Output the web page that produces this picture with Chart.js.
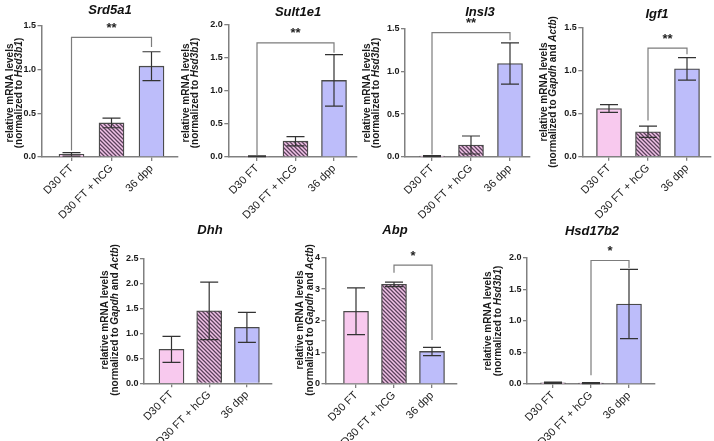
<!DOCTYPE html>
<html>
<head>
<meta charset="utf-8">
<script src="https://cdn.jsdelivr.net/npm/chart.js@4.4.1/dist/chart.umd.min.js"></script>
<style>
html, body { margin: 0; padding: 0; background: #fff; }
#fig { position: relative; width: 714px; height: 441px; overflow: hidden; }
#fig canvas { position: absolute; }
</style>
</head>
<body>
<div id="fig"></div>
<script>
// groups (same for every panel)
const categories = ['D30 FT', 'D30 FT + hCG', '36 dpp'];

// mean and error of each gene
const srd5a1Mean = [0.03, 0.39, 1.04];
const srd5a1Err = [0.02, 0.055, 0.165];
const sult1e1Mean = [0.01, 0.24, 1.16];
const sult1e1Err = [0.006, 0.07, 0.39];
const insl3Mean = [0.01, 0.14, 1.09];
const insl3Err = [0.006, 0.105, 0.24];
const igf1Mean = [0.56, 0.29, 1.02];
const igf1Err = [0.045, 0.065, 0.13];
const dhhMean = [0.68, 1.45, 1.12];
const dhhErr = [0.26, 0.575, 0.30];
const abpMean = [2.3, 3.15, 1.03];
const abpErr = [0.74, 0.07, 0.13];
const hsd17b2Mean = [0.02, 0.015, 1.27];
const hsd17b2Err = [0.01, 0.008, 0.55];

// y axis ranges: [max, step, decimals]
const srd5a1Axis = [1.5, 0.5, 1];
const sult1e1Axis = [2.0, 0.5, 1];
const insl3Axis = [1.5, 0.5, 1];
const igf1Axis = [1.5, 0.5, 1];
const dhhAxis = [2.5, 0.5, 1];
const abpAxis = [4, 1, 0];
const hsd17b2Axis = [2.0, 0.5, 1];

// significance brackets: [from, to, level, left leg end, right leg end, label]
const srd5a1Sig = [0, 2, 1.37, 0.075, 1.26, '**'];
const sult1e1Sig = [0, 2, 1.73, 0.03, 1.58, '**'];
const insl3Sig = [0, 2, 1.45, 0.03, 1.36, '**'];
const igf1Sig = [1, 2, 1.26, 0.42, 1.19, '**'];
const abpSig = [1, 2, 3.76, 3.52, 1.39, '*'];
const hsd17b2Sig = [1, 2, 1.96, 0.14, 1.84, '*'];

const hsdNorm = [['(normalized to ', 0], ['Hsd3b1', 1], [')', 0]];
const refNorm = [['(normalized to ', 0], ['Gapdh', 1], [' and ', 0], ['Actb', 1], [')', 0]];

const FONT = '"Liberation Sans", Arial, sans-serif';

function hatch() {
  const c = document.createElement('canvas');
  c.width = 4; c.height = 4;
  const g = c.getContext('2d');
  g.fillStyle = '#f2c3e8';
  g.fillRect(0, 0, 4, 4);
  g.strokeStyle = '#5c425c';
  g.lineWidth = 1.3;
  g.beginPath();
  g.moveTo(-1, -1); g.lineTo(5, 5);
  g.moveTo(-1, 3); g.lineTo(1, 5);
  g.moveTo(3, -1); g.lineTo(5, 1);
  g.stroke();
  return g.createPattern(c, 'repeat');
}

// placement of each panel on the page
const panels = [
  { title: 'Srd5a1', mean: srd5a1Mean, err: srd5a1Err, axis: srd5a1Axis, sig: srd5a1Sig, norm: hsdNorm,
    L: 0, T: 0, W: 180, H: 220, axisX: 41.5, yTop: 26, y0: 157, c0: 71.5, step: 40, xEnd: 178,
    tx: 110, ty: 10, yl: [10.5, 19.5, 93] },
  { title: 'Sult1e1', mean: sult1e1Mean, err: sult1e1Err, axis: sult1e1Axis, sig: sult1e1Sig, norm: hsdNorm,
    L: 180, T: 0, W: 180, H: 220, axisX: 228.3, yTop: 25, y0: 157, c0: 257, step: 38.5, xEnd: 357,
    tx: 298, ty: 12, yl: [186, 195.5, 93] },
  { title: 'Insl3', mean: insl3Mean, err: insl3Err, axis: insl3Axis, sig: insl3Sig, norm: hsdNorm,
    L: 360, T: 0, W: 175, H: 220, axisX: 405, yTop: 28.3, y0: 157, c0: 432, step: 39, xEnd: 530,
    tx: 480, ty: 12, yl: [367, 376.5, 93] },
  { title: 'Igf1', mean: igf1Mean, err: igf1Err, axis: igf1Axis, sig: igf1Sig, norm: refNorm,
    L: 535, T: 0, W: 179, H: 220, axisX: 582.3, yTop: 27.5, y0: 156.7, c0: 609, step: 39, xEnd: 711,
    tx: 657, ty: 14, yl: [544, 553.5, 92] },
  { title: 'Dhh', mean: dhhMean, err: dhhErr, axis: dhhAxis, sig: null, norm: refNorm,
    L: 90, T: 215, W: 185, H: 226, axisX: 144, yTop: 258.3, y0: 383.3, c0: 171.5, step: 37.7, xEnd: 272,
    tx: 210, ty: 230, yl: [105.5, 115.5, 320] },
  { title: 'Abp', mean: abpMean, err: abpErr, axis: abpAxis, sig: abpSig, norm: refNorm,
    L: 280, T: 215, W: 180, H: 226, axisX: 325.5, yTop: 257.5, y0: 384, c0: 356, step: 38, xEnd: 457,
    tx: 395, ty: 230, yl: [300.5, 310, 320] },
  { title: 'Hsd17b2', mean: hsd17b2Mean, err: hsd17b2Err, axis: hsd17b2Axis, sig: hsd17b2Sig, norm: hsdNorm,
    L: 462, T: 215, W: 200, H: 226, axisX: 527, yTop: 258, y0: 384, c0: 553, step: 38, xEnd: 655,
    tx: 592, ty: 231, yl: [488.5, 498, 321] },
];

function richText(ctx, parts, cx, cy) {
  const f = it => (it ? 'italic bold ' : 'bold ') + '10px ' + FONT;
  let w = 0;
  parts.forEach(p => { ctx.font = f(p[1]); w += ctx.measureText(p[0]).width; });
  ctx.save();
  ctx.translate(cx, cy);
  ctx.rotate(-Math.PI / 2);
  ctx.textAlign = 'left';
  ctx.textBaseline = 'middle';
  let x = -w / 2;
  parts.forEach(p => {
    ctx.font = f(p[1]);
    ctx.fillText(p[0], x, 0);
    x += ctx.measureText(p[0]).width;
  });
  ctx.restore();
}

function extras(p) {
  return {
    id: 'extras',
    afterDatasetsDraw(chart) {
      const ctx = chart.ctx, xs = chart.scales.x, ys = chart.scales.y;
      ctx.save();
      // error bars
      ctx.strokeStyle = '#333';
      ctx.lineWidth = 1.2;
      p.mean.forEach((m, i) => {
        const cx = xs.getPixelForValue(i);
        const hi = ys.getPixelForValue(m + p.err[i]);
        const lo = ys.getPixelForValue(Math.max(0, m - p.err[i]));
        ctx.beginPath();
        ctx.moveTo(cx, hi); ctx.lineTo(cx, lo);
        ctx.moveTo(cx - 9, hi); ctx.lineTo(cx + 9, hi);
        ctx.moveTo(cx - 9, lo); ctx.lineTo(cx + 9, lo);
        ctx.stroke();
      });
      // bracket
      if (p.sig) {
        const [a, b, lvl, la, lb, txt] = p.sig;
        const xa = xs.getPixelForValue(a), xb = xs.getPixelForValue(b);
        const yl = ys.getPixelForValue(lvl);
        ctx.strokeStyle = '#7c7c7c';
        ctx.beginPath();
        ctx.moveTo(xa, ys.getPixelForValue(la));
        ctx.lineTo(xa, yl);
        ctx.lineTo(xb, yl);
        ctx.lineTo(xb, ys.getPixelForValue(lb));
        ctx.stroke();
        ctx.fillStyle = '#222';
        ctx.font = 'bold 13px ' + FONT;
        ctx.textAlign = 'center';
        ctx.textBaseline = 'middle';
        ctx.fillText(txt, (xa + xb) / 2, yl - 9);
      }
      ctx.restore();
    },
    afterDraw(chart) {
      const ctx = chart.ctx;
      ctx.save();
      ctx.fillStyle = '#111';
      ctx.font = 'italic bold 13px ' + FONT;
      ctx.textAlign = 'center';
      ctx.textBaseline = 'middle';
      ctx.fillText(p.title, p.tx - p.L, p.ty - p.T);
      ctx.fillStyle = '#1a1a1a';
      richText(ctx, [['relative mRNA levels', 0]], p.yl[0] - p.L, p.yl[2] - p.T);
      richText(ctx, p.norm, p.yl[1] - p.L, p.yl[2] - p.T);
      ctx.restore();
    }
  };
}

const fig = document.getElementById('fig');
const pattern = hatch();

panels.forEach(p => {
  const cv = document.createElement('canvas');
  cv.width = p.W; cv.height = p.H;
  cv.style.left = p.L + 'px';
  cv.style.top = p.T + 'px';
  fig.appendChild(cv);
  const [ymax, ystep, dec] = p.axis;
  new Chart(cv, {
    type: 'bar',
    data: {
      datasets: [{
        data: p.mean.map((v, i) => ({ x: i, y: v })),
        backgroundColor: ['#f8c9ee', pattern, '#bdbdfa'],
        borderColor: '#4a4a4a',
        borderWidth: 1.3,
        barThickness: 25,
      }]
    },
    options: {
      responsive: false,
      animation: false,
      events: [],
      layout: { padding: { top: p.yTop - p.T, right: p.L + p.W - p.xEnd, left: 0, bottom: 0 } },
      plugins: { legend: { display: false }, tooltip: { enabled: false } },
      scales: {
        x: {
          type: 'linear',
          offset: false,
          min: -(p.c0 - p.axisX) / p.step,
          max: 2 + (p.xEnd - p.c0 - 2 * p.step) / p.step,
          afterBuildTicks: s => { s.ticks = [0, 1, 2].map(v => ({ value: v })); },
          afterFit: s => { s.height = p.T + p.H - p.y0; },
          grid: { offset: false, drawOnChartArea: false, drawTicks: true, tickLength: 4, color: '#808080', lineWidth: 1.3 },
          border: { color: '#808080', width: 1.5 },
          ticks: {
            autoSkip: false, minRotation: 45, maxRotation: 45, padding: 1,
            color: '#222', font: { family: FONT, size: 11 },
            callback: v => categories[v]
          }
        },
        y: {
          min: 0, max: ymax,
          afterFit: s => { s.width = p.axisX - p.L; },
          grid: { drawOnChartArea: false, drawTicks: true, tickLength: 4, color: '#808080', lineWidth: 1.3 },
          border: { color: '#808080', width: 1.5 },
          ticks: {
            stepSize: ystep, padding: 1.5, color: '#1a1a1a',
            font: { family: FONT, size: 9, weight: 'bold' },
            callback: v => v.toFixed(dec)
          }
        }
      }
    },
    plugins: [extras(p)]
  });
});
</script>
</body>
</html>
